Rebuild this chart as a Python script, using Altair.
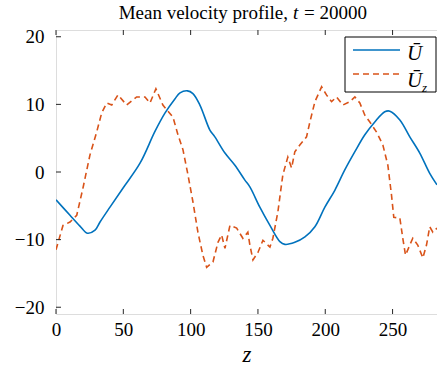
import altair as alt
import pandas as pd

# ---- data ----
z_u = [0, 10.4, 17.8, 23.2, 29, 32.7, 40.1, 49.7, 62.4, 73.5, 80.9, 88.3, 92.1, 97.6,
       101.7, 106.9, 114.3, 118, 125.5, 132.9, 140.3, 144, 151.4, 158.9, 166.3, 170,
       177.4, 184.9, 192.3, 199.7, 207.1, 214.5, 222, 229.4, 236.8, 244.2, 248, 255.4,
       262.8, 270.2, 277.6, 283]
u_vals = [-4.1, -6.4, -8.0, -9.05, -8.6, -7.4, -5.2, -2.4, 1.3, 6.0, 8.7, 10.8, 11.7, 12.0,
          11.6, 9.9, 6.2, 5.2, 2.8, 1.0, -1.2, -2.2, -5.2, -7.9, -10.3, -10.7,
          -10.4, -9.6, -8.1, -5.2, -2.7, 0.3, 3.0, 5.5, 7.4, 8.9, 9.0, 7.7,
          5.2, 2.8, -0.2, -1.9]

z_uz = [0, 5.2, 10.4, 15.4, 20.0, 25.2, 30.2, 33.9, 37.6, 41.4, 46.0, 52.5, 59.9, 66.1,
        69.8, 74.2, 79.4, 86.9, 90.6, 94.3, 98.0, 101.7, 105.4, 109.1, 111.9, 116.6,
        120.3, 123.0, 125.5, 129.2, 134.2, 138.8, 142.5, 144.0, 146.3, 150.0, 153.7,
        158.9, 161.1, 164.8, 168.5, 172.2, 175.0, 177.4, 181.1, 186.1, 188.6, 192.3,
        197.3, 200.9, 204.7, 208.4, 213.1, 218.3, 222.0, 225.7, 229.4, 233.1, 238.1,
        242.8, 246.5, 249.2, 250.9, 255.4, 257.6, 259.6, 262.8, 265.0, 268.7, 272.5,
        275.2, 277.6, 279.9, 283]
uz_vals = [-11.5, -7.9, -7.4, -6.4, -2.4, 2.5, 5.9, 8.7, 10.2, 9.9, 11.4, 9.9, 11.1, 11.1,
           10.2, 12.3, 9.9, 8.1, 5.5, 3.3, -0.4, -4.4, -8.9, -12.3, -14.1, -13.3,
           -10.4, -9.3, -11.3, -7.9, -8.3, -9.8, -8.9, -10.8, -13.0, -11.9, -10.1,
           -11.1, -9.8, -5.9, -0.4, 2.2, 0.6, 3.0, 4.0, 5.2, 7.4, 10.4,
           12.6, 11.4, 10.4, 11.1, 9.9, 10.4, 11.1, 10.2, 8.4, 7.4, 5.9,
           4.0, 1.0, -3.4, -6.7, -6.8, -9.8, -12.3, -10.8, -9.8, -10.8, -12.7,
           -10.8, -8.1, -8.9, -8.3]

x_ticks = [0, 50, 100, 150, 200, 250]
y_ticks = [-20, -10, 0, 10, 20]
legend_labels = ["Ū", "Ū"]
legend_sub = ["", "z"]
title_parts = ["Mean velocity profile,", "t", "= 20000"]

BLUE = "#0072BD"
ORANGE = "#D95319"
FRAME = "#262626"
SERIF = "Liberation Serif"

W, H = 381, 284
xscale = alt.Scale(domain=[0, 283], nice=False, zero=False)
yscale = alt.Scale(domain=[-21, 21], nice=False, zero=False)

xaxis = alt.Axis(values=x_ticks, title="z", grid=False, domain=False, ticks=False,
                 labelFont=SERIF, labelFontSize=19, labelColor="black", labelPadding=6,
                 titleFont=SERIF, titleFontSize=23, titleFontStyle="italic",
                 titleFontWeight="normal", titleColor="black", titlePadding=4,
                 labelFlush=False)
yaxis = alt.Axis(values=y_ticks, title=None, grid=False, domain=False, ticks=False,
                 labelFont=SERIF, labelFontSize=19, labelColor="black", labelPadding=12)

X = alt.X("z:Q", scale=xscale, axis=xaxis)
Y = alt.Y("v:Q", scale=yscale, axis=yaxis)

df_u = pd.DataFrame({"z": z_u, "v": u_vals})
df_uz = pd.DataFrame({"z": z_uz, "v": uz_vals})
df_xt = pd.DataFrame({"z": x_ticks})
df_yt = pd.DataFrame({"v": y_ticks})

line_u = alt.Chart(df_u).mark_line(color=BLUE, strokeWidth=1.6, interpolate="catmull-rom",
                                   clip=True).encode(x=X, y=Y)
line_uz = alt.Chart(df_uz).mark_line(color=ORANGE, strokeWidth=1.6, strokeDash=[6, 4],
                                     clip=True).encode(x=X, y=Y)

tick_bottom = alt.Chart(df_xt).mark_rule(color=FRAME, strokeWidth=1).encode(
    x=X, y=alt.value(H), y2=alt.value(H - 5))
tick_top = alt.Chart(df_xt).mark_rule(color=FRAME, strokeWidth=1).encode(
    x=X, y=alt.value(0), y2=alt.value(5))
tick_left = alt.Chart(df_yt).mark_rule(color=FRAME, strokeWidth=1).encode(
    y=Y, x=alt.value(0), x2=alt.value(5))

# legend (drawn manually for the subscript)
leg_box = alt.Chart(pd.DataFrame({"a": [0]})).mark_rect(
    fill="white", stroke="black", strokeWidth=1).encode(
    x=alt.value(289), x2=alt.value(380), y=alt.value(7), y2=alt.value(62))
leg_l1 = alt.Chart(pd.DataFrame({"a": [0]})).mark_rule(color=BLUE, strokeWidth=1.6).encode(
    x=alt.value(297), x2=alt.value(344), y=alt.value(20))
leg_l2 = alt.Chart(pd.DataFrame({"a": [0]})).mark_rule(
    color=ORANGE, strokeWidth=1.6, strokeDash=[6, 4]).encode(
    x=alt.value(297), x2=alt.value(344), y=alt.value(44))
leg_t1 = alt.Chart(pd.DataFrame({"t": [legend_labels[0]]})).mark_text(
    font=SERIF, fontSize=21, fontStyle="italic", align="left", baseline="alphabetic",
    color="black").encode(x=alt.value(351), y=alt.value(30), text="t:N")
leg_t2 = alt.Chart(pd.DataFrame({"t": [legend_labels[1]]})).mark_text(
    font=SERIF, fontSize=21, fontStyle="italic", align="left", baseline="alphabetic",
    color="black").encode(x=alt.value(351), y=alt.value(57), text="t:N")
leg_t3 = alt.Chart(pd.DataFrame({"t": [legend_sub[1]]})).mark_text(
    font=SERIF, fontSize=13, fontStyle="italic", align="left", baseline="alphabetic",
    color="black").encode(x=alt.value(366), y=alt.value(62), text="t:N")

# title
ttl1 = alt.Chart(pd.DataFrame({"t": [title_parts[0]]})).mark_text(
    font=SERIF, fontSize=19, align="right", baseline="alphabetic", color="black").encode(
    x=alt.value(232), y=alt.value(-11), text="t:N")
ttl2 = alt.Chart(pd.DataFrame({"t": [title_parts[1]]})).mark_text(
    font=SERIF, fontSize=19, fontStyle="italic", align="left", baseline="alphabetic",
    color="black").encode(x=alt.value(237), y=alt.value(-11), text="t:N")
ttl3 = alt.Chart(pd.DataFrame({"t": [title_parts[2]]})).mark_text(
    font=SERIF, fontSize=19, align="left", baseline="alphabetic", color="black").encode(
    x=alt.value(248), y=alt.value(-11), text="t:N")

chart = alt.layer(
    line_u, line_uz, tick_bottom, tick_top, tick_left,
    leg_box, leg_l1, leg_l2, leg_t1, leg_t2, leg_t3, ttl1, ttl2, ttl3
).properties(
    width=W, height=H,
    padding={"left": 56, "top": 30, "right": 0, "bottom": 57},
    autosize=alt.AutoSizeParams(type="none"),
).configure_view(stroke=FRAME, strokeWidth=1).configure(background="white")

chart.save("out.html", embed_options={"renderer": "svg", "actions": False})
